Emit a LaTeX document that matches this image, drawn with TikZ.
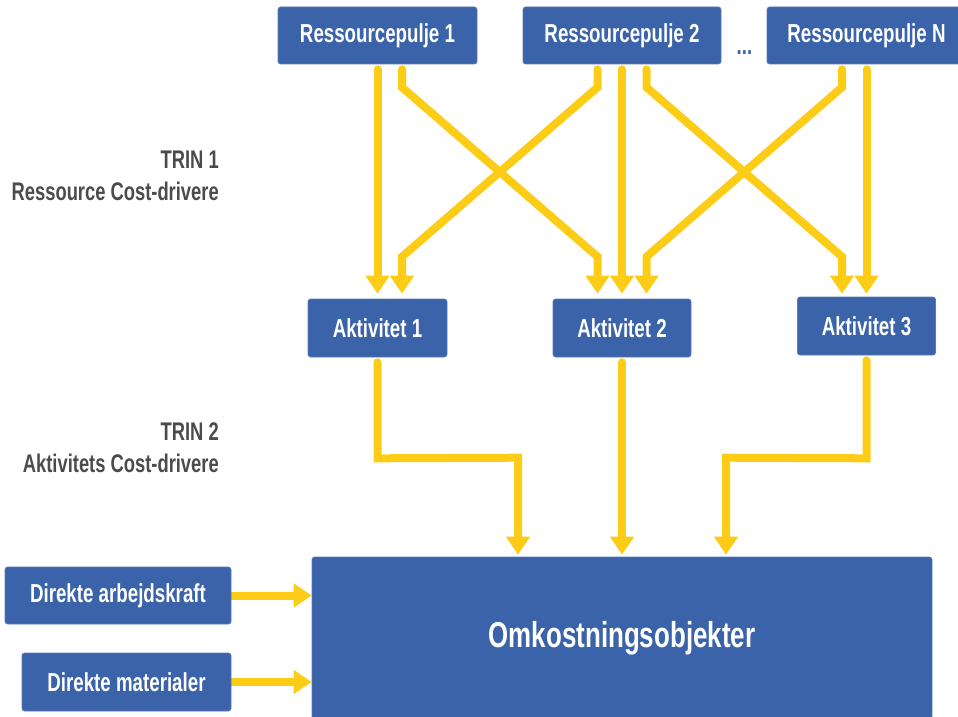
\documentclass[tikz,border=0pt]{standalone}
\usepackage{fontspec}
\setmainfont{Liberation Sans}[FakeStretch=0.72]
\usetikzlibrary{arrows.meta,calc,backgrounds}
\definecolor{boxblue}{HTML}{3B63A9}
\definecolor{flowyellow}{HTML}{FCCC17}
\definecolor{labelgray}{HTML}{4B4B4B}
\begin{document}
\begin{tikzpicture}[x=1pt,y=-1pt,
  box/.style={fill=boxblue, draw=boxblue!85!white, line width=0.6pt, rounded corners=2.5pt,
    text=white, font=\fontsize{26}{30}\selectfont\bfseries, inner sep=0pt, minimum height=57pt},
  flow/.style={draw=flowyellow, line width=8pt, line cap=round, line join=miter,
    -{Triangle[width=23pt,length=18pt]}},
  steplabel/.style={text=labelgray, font=\fontsize{25.5}{32}\selectfont\bfseries, align=right, anchor=east, inner sep=0pt}]
\useasboundingbox (0,0) rectangle (958,717);
\clip (0,0) rectangle (958,717);

% top resource pools
\node[box, minimum width=199pt] (r1) at (377.5,35.5) {Ressourcepulje 1};
\node[box, minimum width=198pt] (r2) at (622,35.5) {Ressourcepulje 2};
\node[box, minimum width=199pt] (rN) at (866.5,35.5) {Ressourcepulje N};
\node[text=boxblue, font=\fontsize{26}{30}\selectfont\bfseries, anchor=base, inner sep=0pt] (dots) at (744.5,55) {...};

% activities
\node[box, minimum width=139pt, minimum height=58pt] (a1) at (377.5,328) {Aktivitet 1};
\node[box, minimum width=138pt, minimum height=58pt] (a2) at (622,328) {Aktivitet 2};
\node[box, minimum width=138pt, minimum height=58pt] (a3) at (866.5,326) {Aktivitet 3};

% cost objects
\node[box, minimum width=620pt, minimum height=162pt, font=\fontsize{36}{40}\selectfont\bfseries] (omk) at (622,638) {Omkostningsobjekter};
\node[box, minimum width=226pt] (da) at (118,595.5) {Direkte arbejdskraft};
\node[box, minimum width=209pt, minimum height=58pt] (dm) at (126.5,682) {Direkte materialer};

% step labels
\node[steplabel] (t1) at (219,176) {TRIN 1\\Ressource Cost-drivere};
\node[steplabel] (t2) at (219,448) {TRIN 2\\Aktivitets Cost-drivere};

\begin{pgfonlayer}{background}
% step 1: resources -> activities
\draw[flow] ($(r1.south)+(0,5)$) -- ($(a1.north)+(0,-5)$);
\draw[flow] ($(r1.south)+(24.5,5)$) -- ++(0,18) -- ($(a2.north)+(-24.5,-42)$) -- ($(a2.north)+(-24.5,-5)$);
\draw[flow] ($(r2.south)+(-24.5,5)$) -- ++(0,18) -- ($(a1.north)+(24.5,-42)$) -- ($(a1.north)+(24.5,-5)$);
\draw[flow] ($(r2.south)+(0,5)$) -- ($(a2.north)+(0,-5)$);
\draw[flow] ($(r2.south)+(24.5,5)$) -- ++(0,18) -- ($(a3.north)+(-24.5,-40)$) -- ($(a3.north)+(-24.5,-3)$);
\draw[flow] ($(rN.south)+(-24.5,5)$) -- ++(0,18) -- ($(a2.north)+(24.5,-42)$) -- ($(a2.north)+(24.5,-5)$);
\draw[flow] ($(rN.south)+(0,5)$) -- ($(a3.north)+(0,-3)$);
% step 2: activities -> cost objects
\draw[flow] ($(a1.south)+(0,5)$) -- ($(a1.south)+(0,101)$) -- ($(omk.north)+(-104,-99)$) -- ($(omk.north)+(-104,-2)$);
\draw[flow] ($(a2.south)+(0,5)$) -- ($(omk.north)+(0,-2)$);
\draw[flow] ($(a3.south)+(0,5)$) -- ($(a3.south)+(0,103)$) -- ($(omk.north)+(104,-99)$) -- ($(omk.north)+(104,-2)$);
% direct costs
\draw[flow] (da.east) -- (da.east -| omk.west);
\draw[flow] (dm.east) -- (dm.east -| omk.west);
\end{pgfonlayer}
\end{tikzpicture}
\end{document}
